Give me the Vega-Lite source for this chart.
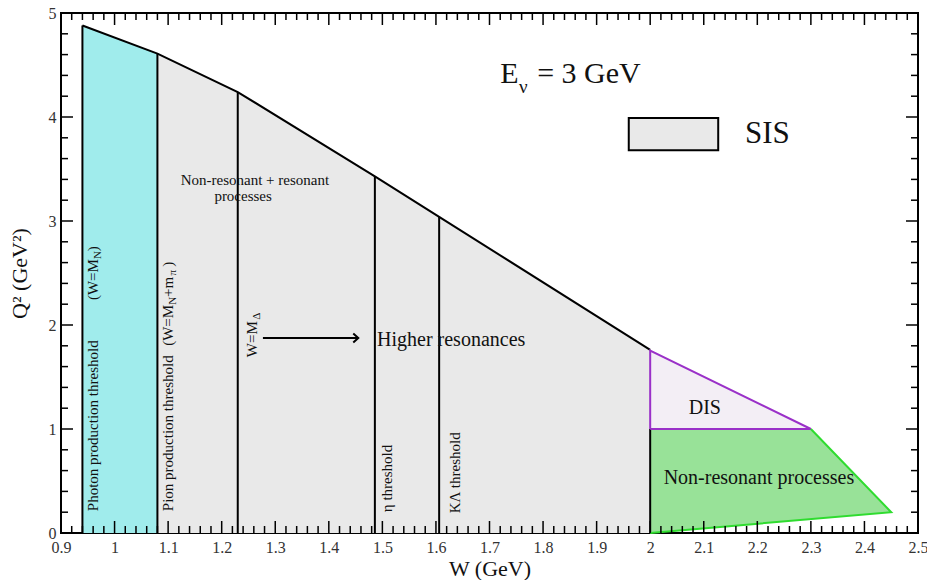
{
  "$schema": "https://vega.github.io/schema/vega-lite/v6.json",
  "width": 857,
  "height": 520,
  "autosize": "none",
  "padding": {"left": 61, "top": 13, "right": 9, "bottom": 47},
  "background": "white",
  "config": {
    "view": {"stroke": "black", "strokeWidth": 2},
    "font": "Liberation Serif"
  },
  "resolve": {"axis": {"x": "independent", "y": "independent"}},
  "datasets": {
    "xmaj": [{"v":0.9},{"v":1.0},{"v":1.1},{"v":1.2},{"v":1.3},{"v":1.4},{"v":1.5},{"v":1.6},{"v":1.7},{"v":1.8},{"v":1.9},{"v":2.0},{"v":2.1},{"v":2.2},{"v":2.3},{"v":2.4},{"v":2.5}],
    "xmin": [{"v":0.92},{"v":0.94},{"v":0.96},{"v":0.98},{"v":1.02},{"v":1.04},{"v":1.06},{"v":1.08},{"v":1.12},{"v":1.14},{"v":1.16},{"v":1.18},{"v":1.22},{"v":1.24},{"v":1.26},{"v":1.28},{"v":1.32},{"v":1.34},{"v":1.36},{"v":1.38},{"v":1.42},{"v":1.44},{"v":1.46},{"v":1.48},{"v":1.52},{"v":1.54},{"v":1.56},{"v":1.58},{"v":1.62},{"v":1.64},{"v":1.66},{"v":1.68},{"v":1.72},{"v":1.74},{"v":1.76},{"v":1.78},{"v":1.82},{"v":1.84},{"v":1.86},{"v":1.88},{"v":1.92},{"v":1.94},{"v":1.96},{"v":1.98},{"v":2.02},{"v":2.04},{"v":2.06},{"v":2.08},{"v":2.12},{"v":2.14},{"v":2.16},{"v":2.18},{"v":2.22},{"v":2.24},{"v":2.26},{"v":2.28},{"v":2.32},{"v":2.34},{"v":2.36},{"v":2.38},{"v":2.42},{"v":2.44},{"v":2.46},{"v":2.48}],
    "ymaj": [{"v":0},{"v":1},{"v":2},{"v":3},{"v":4},{"v":5}],
    "ymin": [{"v":0.2},{"v":0.4},{"v":0.6},{"v":0.8},{"v":1.2},{"v":1.4},{"v":1.6},{"v":1.8},{"v":2.2},{"v":2.4},{"v":2.6},{"v":2.8},{"v":3.2},{"v":3.4},{"v":3.6},{"v":3.8},{"v":4.2},{"v":4.4},{"v":4.6},{"v":4.8}]
  },
  "layer": [
    {
      "data": {"values": [
        {"region": "SIS", "x": 1.08, "y": 4.61, "y2": 0},
        {"region": "SIS", "x": 1.23, "y": 4.24, "y2": 0},
        {"region": "SIS", "x": 1.486, "y": 3.43, "y2": 0},
        {"region": "SIS", "x": 1.606, "y": 3.04, "y2": 0},
        {"region": "SIS", "x": 2.0, "y": 1.76, "y2": 0},
        {"region": "Photon", "x": 0.94, "y": 4.88, "y2": 0},
        {"region": "Photon", "x": 1.08, "y": 4.61, "y2": 0},
        {"region": "DIS", "x": 2.0, "y": 1.753, "y2": 1.0},
        {"region": "DIS", "x": 2.3, "y": 1.0, "y2": 1.0},
        {"region": "NonRes", "x": 2.0, "y": 1.0, "y2": 0.0},
        {"region": "NonRes", "x": 2.3, "y": 1.0, "y2": 0.133},
        {"region": "NonRes", "x": 2.45, "y": 0.2, "y2": 0.2}
      ]},
      "mark": {"type": "area", "opacity": 1},
      "encoding": {
        "x": {
          "field": "x", "type": "quantitative",
          "scale": {"domain": [0.9, 2.5], "nice": false, "zero": false},
          "axis": {
            "orient": "bottom",
            "values": [0.9,1.0,1.1,1.2,1.3,1.4,1.5,1.6,1.7,1.8,1.9,2.0,2.1,2.2,2.3,2.4,2.5],
            "format": "~g",
            "ticks": false,
            "domain": false,
            "grid": false,
            "labelFont": "Liberation Serif",
            "labelFontSize": 16,
            "labelColor": "#333333",
            "labelPadding": 6,
            "labelFlush": false,
            "labelOverlap": false,
            "title": "W (GeV)",
            "titleFont": "Liberation Serif",
            "titleFontSize": 22,
            "titleFontWeight": "normal",
            "titleColor": "#111111",
            "titlePadding": 3
          }
        },
        "y": {
          "field": "y", "type": "quantitative", "stack": null,
          "scale": {"domain": [0, 5], "nice": false, "zero": false},
          "axis": {
            "orient": "left",
            "values": [0, 1, 2, 3, 4, 5],
            "format": "d",
            "ticks": false,
            "domain": false,
            "grid": false,
            "labelFont": "Liberation Serif",
            "labelFontSize": 16,
            "labelColor": "#333333",
            "labelPadding": 5,
            "labelOverlap": false,
            "labelFlush": false,
            "title": "Q² (GeV²)",
            "titleFont": "Liberation Serif",
            "titleFontSize": 22,
            "titleFontWeight": "normal",
            "titleColor": "#111111",
            "titlePadding": 17
          }
        },
        "y2": {"field": "y2"},
        "fill": {
          "field": "region", "type": "nominal", "legend": null,
          "scale": {"domain": ["SIS", "Photon", "DIS", "NonRes"], "range": ["#e9e9e9", "#a0ecec", "#f3eef5", "#98e298"]}
        }
      }
    },
    {
      "data": {"values": [{"x": 1.96, "x2": 2.127, "y": 3.68, "y2": 3.99}]},
      "mark": {"type": "rect", "fill": "#e9e9e9", "stroke": "black", "strokeWidth": 2},
      "encoding": {
        "x": {"field": "x", "type": "quantitative", "axis": null},
        "x2": {"field": "x2"},
        "y": {"field": "y", "type": "quantitative", "axis": null},
        "y2": {"field": "y2"}
      }
    },
    {
      "data": {"values": [
        {"x": 0.94, "y0": 0, "ytop": 4.88},
        {"x": 1.08, "y0": 0, "ytop": 4.61},
        {"x": 1.23, "y0": 0, "ytop": 4.24},
        {"x": 1.486, "y0": 0, "ytop": 3.43},
        {"x": 1.606, "y0": 0, "ytop": 3.04},
        {"x": 2.0, "y0": 0, "ytop": 1.0}
      ]},
      "mark": {"type": "rule", "color": "black", "strokeWidth": 2},
      "encoding": {
        "x": {"field": "x", "type": "quantitative", "axis": null},
        "y": {"field": "y0", "type": "quantitative", "axis": null},
        "y2": {"field": "ytop"}
      }
    },
    {
      "data": {"values": [
        {"g": "curve", "o": 1, "x": 0.94, "y": 4.88},
        {"g": "curve", "o": 2, "x": 1.08, "y": 4.61},
        {"g": "curve", "o": 3, "x": 1.23, "y": 4.24},
        {"g": "curve", "o": 4, "x": 1.486, "y": 3.43},
        {"g": "curve", "o": 5, "x": 1.606, "y": 3.04},
        {"g": "curve", "o": 6, "x": 2.0, "y": 1.76},
        {"g": "dis", "o": 1, "x": 2.0, "y": 1.0},
        {"g": "dis", "o": 2, "x": 2.0, "y": 1.753},
        {"g": "dis", "o": 3, "x": 2.3, "y": 1.0},
        {"g": "dis", "o": 4, "x": 2.0, "y": 1.0},
        {"g": "nonres", "o": 1, "x": 2.3, "y": 1.0},
        {"g": "nonres", "o": 2, "x": 2.45, "y": 0.2},
        {"g": "nonres", "o": 3, "x": 2.0, "y": 0.0},
        {"g": "arrow", "o": 1, "x": 1.277, "y": 1.875},
        {"g": "arrow", "o": 2, "x": 1.455, "y": 1.875}
      ]},
      "mark": {"type": "line", "strokeWidth": 2},
      "encoding": {
        "x": {"field": "x", "type": "quantitative", "axis": null},
        "y": {"field": "y", "type": "quantitative", "axis": null},
        "order": {"field": "o"},
        "detail": {"field": "g"},
        "stroke": {
          "field": "g", "type": "nominal", "legend": null,
          "scale": {"domain": ["curve", "dis", "nonres", "arrow"], "range": ["#000000", "#9a30c8", "#2fdc2f", "#000000"]}
        }
      }
    },
    {
      "data": {"values": [{"x": 1.455, "y": 1.875}]},
      "mark": {"type": "point", "shape": "M-1,-0.9L0,0L-1,0.9", "size": 100, "filled": false, "stroke": "black", "strokeWidth": 2, "opacity": 1},
      "encoding": {
        "x": {"field": "x", "type": "quantitative", "axis": null},
        "y": {"field": "y", "type": "quantitative", "axis": null}
      }
    },
    {
      "data": {"name": "xmaj"},
      "mark": {"type": "tick", "orient": "vertical", "size": 12, "thickness": 1.5, "color": "black", "opacity": 1, "yOffset": -6},
      "encoding": {
        "x": {"field": "v", "type": "quantitative", "axis": null},
        "y": {"datum": 0, "type": "quantitative", "axis": null}
      }
    },
    {
      "data": {"name": "xmaj"},
      "mark": {"type": "tick", "orient": "vertical", "size": 12, "thickness": 1.5, "color": "black", "opacity": 1, "yOffset": 6},
      "encoding": {
        "x": {"field": "v", "type": "quantitative", "axis": null},
        "y": {"datum": 5, "type": "quantitative", "axis": null}
      }
    },
    {
      "data": {"name": "xmin"},
      "mark": {"type": "tick", "orient": "vertical", "size": 7, "thickness": 1.5, "color": "black", "opacity": 1, "yOffset": -3.5},
      "encoding": {
        "x": {"field": "v", "type": "quantitative", "axis": null},
        "y": {"datum": 0, "type": "quantitative", "axis": null}
      }
    },
    {
      "data": {"name": "xmin"},
      "mark": {"type": "tick", "orient": "vertical", "size": 7, "thickness": 1.5, "color": "black", "opacity": 1, "yOffset": 3.5},
      "encoding": {
        "x": {"field": "v", "type": "quantitative", "axis": null},
        "y": {"datum": 5, "type": "quantitative", "axis": null}
      }
    },
    {
      "data": {"name": "ymaj"},
      "mark": {"type": "tick", "orient": "horizontal", "size": 12, "thickness": 1.5, "color": "black", "opacity": 1, "xOffset": 6},
      "encoding": {
        "y": {"field": "v", "type": "quantitative", "axis": null},
        "x": {"datum": 0.9, "type": "quantitative", "axis": null}
      }
    },
    {
      "data": {"name": "ymaj"},
      "mark": {"type": "tick", "orient": "horizontal", "size": 12, "thickness": 1.5, "color": "black", "opacity": 1, "xOffset": -6},
      "encoding": {
        "y": {"field": "v", "type": "quantitative", "axis": null},
        "x": {"datum": 2.5, "type": "quantitative", "axis": null}
      }
    },
    {
      "data": {"name": "ymin"},
      "mark": {"type": "tick", "orient": "horizontal", "size": 7, "thickness": 1.5, "color": "black", "opacity": 1, "xOffset": 3.5},
      "encoding": {
        "y": {"field": "v", "type": "quantitative", "axis": null},
        "x": {"datum": 0.9, "type": "quantitative", "axis": null}
      }
    },
    {
      "data": {"name": "ymin"},
      "mark": {"type": "tick", "orient": "horizontal", "size": 7, "thickness": 1.5, "color": "black", "opacity": 1, "xOffset": -3.5},
      "encoding": {
        "y": {"field": "v", "type": "quantitative", "axis": null},
        "x": {"datum": 2.5, "type": "quantitative", "axis": null}
      }
    },
    {
      "data": {"values": [
        {"x": 1.262, "y": 3.39, "label": "Non-resonant + resonant"},
        {"x": 1.24, "y": 3.245, "label": "processes"}
      ]},
      "mark": {"type": "text", "font": "Liberation Serif", "fontSize": 15, "align": "center", "baseline": "middle", "color": "#111111"},
      "encoding": {
        "x": {"field": "x", "type": "quantitative", "axis": null},
        "y": {"field": "y", "type": "quantitative", "axis": null},
        "text": {"field": "label"}
      }
    },
    {
      "data": {"values": [
        {"x": 1.49, "y": 1.856, "label": "Higher resonances"}
      ]},
      "mark": {"type": "text", "font": "Liberation Serif", "fontSize": 20, "align": "left", "baseline": "middle", "color": "#111111"},
      "encoding": {
        "x": {"field": "x", "type": "quantitative", "axis": null},
        "y": {"field": "y", "type": "quantitative", "axis": null},
        "text": {"field": "label"}
      }
    },
    {
      "data": {"values": [
        {"x": 2.102, "y": 1.2, "label": "DIS"},
        {"x": 2.203, "y": 0.53, "label": "Non-resonant processes"}
      ]},
      "mark": {"type": "text", "font": "Liberation Serif", "fontSize": 20, "align": "center", "baseline": "middle", "color": "#111111"},
      "encoding": {
        "x": {"field": "x", "type": "quantitative", "axis": null},
        "y": {"field": "y", "type": "quantitative", "axis": null},
        "text": {"field": "label"}
      }
    },
    {
      "data": {"values": [
        {"x": 2.177, "y": 3.837, "label": "SIS"}
      ]},
      "mark": {"type": "text", "font": "Liberation Serif", "fontSize": 31, "align": "left", "baseline": "middle", "color": "#111111"},
      "encoding": {
        "x": {"field": "x", "type": "quantitative", "axis": null},
        "y": {"field": "y", "type": "quantitative", "axis": null},
        "text": {"field": "label"}
      }
    },
    {
      "data": {"values": [
        {"x": 1.72, "y": 4.41, "label": "E"},
        {"x": 1.789, "y": 4.41, "label": "= 3 GeV"}
      ]},
      "mark": {"type": "text", "font": "Liberation Serif", "fontSize": 30, "align": "left", "baseline": "middle", "color": "#111111"},
      "encoding": {
        "x": {"field": "x", "type": "quantitative", "axis": null},
        "y": {"field": "y", "type": "quantitative", "axis": null},
        "text": {"field": "label"}
      }
    },
    {
      "data": {"values": [
        {"x": 1.755, "y": 4.29, "label": "ν"}
      ]},
      "mark": {"type": "text", "font": "Liberation Serif", "fontSize": 19, "align": "left", "baseline": "middle", "color": "#111111"},
      "encoding": {
        "x": {"field": "x", "type": "quantitative", "axis": null},
        "y": {"field": "y", "type": "quantitative", "axis": null},
        "text": {"field": "label"}
      }
    },
    {
      "data": {"values": [
        {"x": 0.96, "y": 0.21, "label": "Photon production threshold"},
        {"x": 0.96, "y": 2.24, "label": "(W=M"},
        {"x": 0.96, "y": 2.71, "label": ")"},
        {"x": 1.1, "y": 0.21, "label": "Pion production threshold"},
        {"x": 1.1, "y": 1.8, "label": "(W=M"},
        {"x": 1.1, "y": 2.27, "label": "+m"},
        {"x": 1.1, "y": 2.56, "label": ")"},
        {"x": 1.257, "y": 1.69, "label": "W=M"},
        {"x": 1.509, "y": 0.2, "label": "η threshold"},
        {"x": 1.636, "y": 0.19, "label": "KΛ threshold"}
      ]},
      "mark": {"type": "text", "font": "Liberation Serif", "fontSize": 15, "align": "left", "baseline": "middle", "angle": 270, "color": "#111111"},
      "encoding": {
        "x": {"field": "x", "type": "quantitative", "axis": null},
        "y": {"field": "y", "type": "quantitative", "axis": null},
        "text": {"field": "label"}
      }
    },
    {
      "data": {"values": [
        {"x": 0.96, "y": 2.635, "label": "N"},
        {"x": 1.1, "y": 2.195, "label": "N"},
        {"x": 1.1, "y": 2.475, "label": "π"},
        {"x": 1.257, "y": 2.05, "label": "Δ"}
      ]},
      "mark": {"type": "text", "font": "Liberation Serif", "fontSize": 11, "align": "left", "baseline": "middle", "angle": 270, "dy": 5, "color": "#111111"},
      "encoding": {
        "x": {"field": "x", "type": "quantitative", "axis": null},
        "y": {"field": "y", "type": "quantitative", "axis": null},
        "text": {"field": "label"}
      }
    }
  ]
}
